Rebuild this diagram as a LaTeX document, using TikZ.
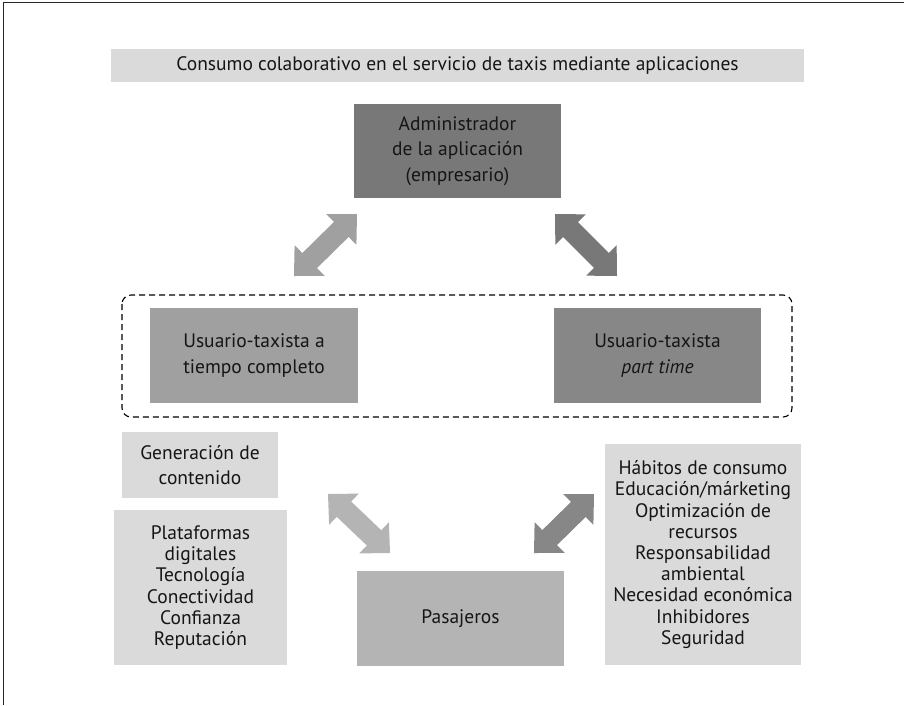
\documentclass[tikz,border=0pt]{standalone}
\usepackage{fontspec}
\setmainfont{PT Sans}
\usetikzlibrary{calc}

\definecolor{inkblack}{HTML}{151515}
\definecolor{paneltint}{HTML}{DADADA}
\definecolor{ownergray}{HTML}{787878}
\definecolor{fullgray}{HTML}{A0A0A0}
\definecolor{partgray}{HTML}{878787}
\definecolor{paxgray}{HTML}{B4B4B4}

% filled two-headed block arrow between two named coordinates
\newcommand\twowayarrow[3]{%
  \path ($(#2)!22pt!(#3)$) coordinate (#2-h) ($(#3)!22pt!(#2)$) coordinate (#3-h);
  \fill[#1] (#2)
    -- ($(#2-h)!21.5pt!90:(#3)$) -- ($(#2-h)!10.5pt!90:(#3)$)
    -- ($(#3-h)!10.5pt!-90:(#2)$) -- ($(#3-h)!21.5pt!-90:(#2)$)
    -- (#3)
    -- ($(#3-h)!21.5pt!90:(#2)$) -- ($(#3-h)!10.5pt!90:(#2)$)
    -- ($(#2-h)!10.5pt!-90:(#3)$) -- ($(#2-h)!21.5pt!-90:(#3)$)
    -- cycle;
}

\tikzset{
  box/.style={draw=none, inner sep=0pt, align=center, text=inkblack,
    font=\fontsize{19.5}{25.5}\selectfont},
  listbox/.style={box, fill=paneltint, font=\fontsize{19.5}{21.2}\selectfont},
}

\begin{document}
\begin{tikzpicture}[x=1pt, y=-1pt]
  \useasboundingbox (0,0) rectangle (904,705);

  % page frame (top and left edges)
  \draw[line width=1.6pt, black!85] (3.5,705) -- (3.5,2.5) -- (904,2.5);

  % heading band
  \node[box, fill=paneltint, minimum width=693pt, minimum height=33pt,
        font=\fontsize{19.5}{22}\selectfont] (title) at (457.5,65.5)
    {Consumo colaborativo en el servicio de taxis mediante aplicaciones};

  % platform owner
  \node[box, fill=ownergray, minimum width=207pt, minimum height=94pt] (admin) at (457.5,151)
    {Administrador\\de la aplicación\\(empresario)};

  % drivers group
  \draw[dashed, dash pattern=on 6pt off 4pt, line width=1.1pt, black, rounded corners=9pt]
    (122,295) rectangle (792,417);
  \node[box, fill=fullgray, minimum width=208pt, minimum height=95pt] (fulltime) at (254,355.5)
    {Usuario-taxista a\\tiempo completo};
  \node[box, fill=partgray, minimum width=207pt, minimum height=95pt] (parttime) at (657.5,355.5)
    {Usuario-taxista\\\textit{part time}};

  % side panels
  \node[box, fill=paneltint, minimum width=156pt, minimum height=66pt,
        font=\fontsize{19.5}{25}\selectfont] (content) at (200,465)
    {Generación de\\contenido};
  \node[listbox, minimum width=173pt, minimum height=155pt] (platforms) at (200.5,587.5)
    {Plataformas\\digitales\\Tecnología\\Conectividad\\Confianza\\Reputación};
  \node[listbox, minimum width=196pt, minimum height=221pt] (habits) at (703,554.5)
    {Hábitos de consumo\\Educación/márketing\\Optimización de\\recursos\\Responsabilidad\\ambiental\\Necesidad económica\\Inhibidores\\Seguridad};

  % passengers
  \node[box, fill=paxgray, minimum width=207pt, minimum height=95pt] (pax) at (460.5,618.5)
    {Pasajeros};

  % arrow end points
  \coordinate (ownerL) at (357,214);
  \coordinate (fullT)  at (294,276);
  \coordinate (ownerR) at (555,214);
  \coordinate (partT)  at (617,276);
  \coordinate (contB)  at (328,494);
  \coordinate (paxL)   at (390,553);
  \coordinate (habL)   at (594,494);
  \coordinate (paxR)   at (534,553);

  \twowayarrow{fullgray}{fullT}{ownerL}
  \twowayarrow{ownergray}{ownerR}{partT}
  \twowayarrow{paxgray}{contB}{paxL}
  \twowayarrow{partgray}{paxR}{habL}
\end{tikzpicture}
\end{document}
